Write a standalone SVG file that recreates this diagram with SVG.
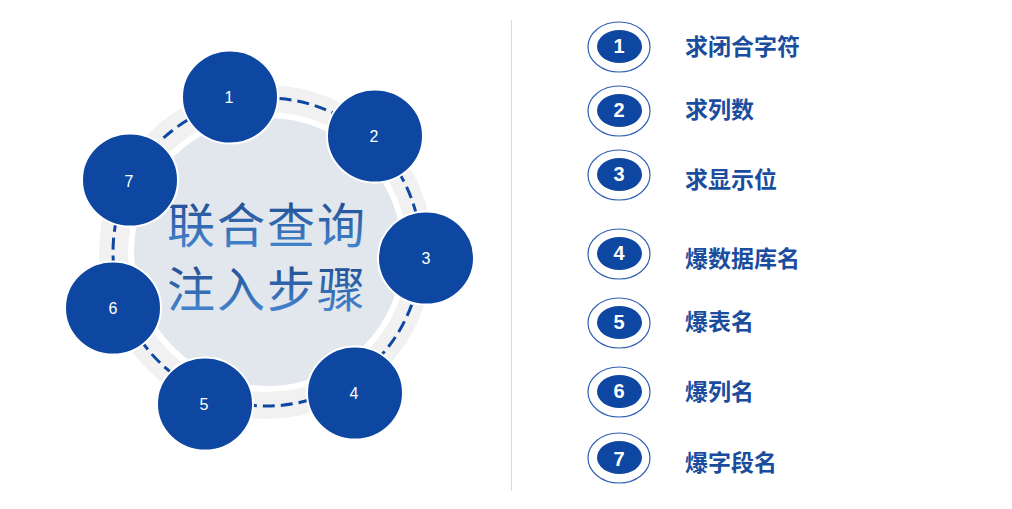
<svg xmlns="http://www.w3.org/2000/svg" width="1012" height="509" viewBox="0 0 1012 509">
  <defs>
    <linearGradient id="tg" x1="0" y1="0" x2="0" y2="1">
      <stop offset="0" stop-color="#173f82"/>
      <stop offset="1" stop-color="#4b8fd8"/>
    </linearGradient>
    <style>
      .node { fill: #0e47a1; stroke: #ffffff; stroke-width: 2; }
      .nlab { fill: #ffffff; font-family: "Liberation Sans", Arial, sans-serif; font-size: 16px; text-anchor: middle; dominant-baseline: central; }
      .bout { fill: #ffffff; stroke: #2f5fb0; stroke-width: 1.2; }
      .bin { fill: #0e47a1; }
      .blab { fill: #ffffff; font-family: "Liberation Sans", Arial, sans-serif; font-size: 20px; font-weight: bold; text-anchor: middle; dominant-baseline: central; }
      .item { fill: #1a4d9e; font-family: "Noto Sans CJK SC", sans-serif; font-size: 23px; font-weight: bold; dominant-baseline: central; }
      .title { fill: url(#tg); font-family: "Noto Sans CJK SC", sans-serif; font-size: 48px; font-weight: 400; text-anchor: middle; letter-spacing: 2px; }
    </style>
  </defs>
  <rect width="1012" height="509" fill="#ffffff"/>

  <g id="hub">
    <circle cx="266" cy="252" r="167" fill="#f1f1f2"/>
    <circle cx="268" cy="252" r="140" fill="#ffffff"/>
    <circle cx="268" cy="252" r="134" fill="#e2e7ee"/>
    <text class="title" x="267" y="243">联合查询</text>
    <text class="title" x="267" y="307">注入步骤</text>
  </g>

  <g id="connectors">
    <circle cx="267" cy="252" r="154" fill="none" stroke="#0e47a1" stroke-width="3" stroke-dasharray="12 6"/>
  </g>

  <g id="node1"><ellipse class="node" cx="230" cy="97" rx="48" ry="46.5"/><text class="nlab" x="229" y="97">1</text></g>
  <g id="node2"><ellipse class="node" cx="375" cy="136" rx="48" ry="46.5"/><text class="nlab" x="374" y="136">2</text></g>
  <g id="node3"><ellipse class="node" cx="426" cy="258" rx="48" ry="46.5"/><text class="nlab" x="426" y="258">3</text></g>
  <g id="node4"><ellipse class="node" cx="355" cy="393" rx="48" ry="46.5"/><text class="nlab" x="354" y="393">4</text></g>
  <g id="node5"><ellipse class="node" cx="205" cy="404" rx="48" ry="46.5"/><text class="nlab" x="204" y="404">5</text></g>
  <g id="node6"><ellipse class="node" cx="113" cy="308" rx="48" ry="46.5"/><text class="nlab" x="113" y="308">6</text></g>
  <g id="node7"><ellipse class="node" cx="130" cy="180" rx="48" ry="46.5"/><text class="nlab" x="129" y="181">7</text></g>

  <line x1="511.5" y1="20" x2="511.5" y2="491" stroke="#d9d9d9" stroke-width="1"/>

  <g id="step1"><ellipse class="bout" cx="619" cy="47" rx="31" ry="25"/><ellipse class="bin" cx="619.5" cy="46.5" rx="22.5" ry="16.5"/><text class="blab" x="619" y="46">1</text><text class="item" x="685" y="45">求闭合字符</text></g>
  <g id="step2"><ellipse class="bout" cx="619" cy="111" rx="31" ry="25"/><ellipse class="bin" cx="619.5" cy="110.5" rx="22.5" ry="16.5"/><text class="blab" x="619" y="110">2</text><text class="item" x="685" y="108">求列数</text></g>
  <g id="step3"><ellipse class="bout" cx="619" cy="175" rx="31" ry="25"/><ellipse class="bin" cx="619.5" cy="174.5" rx="22.5" ry="16.5"/><text class="blab" x="619" y="174">3</text><text class="item" x="685" y="178">求显示位</text></g>
  <g id="step4"><ellipse class="bout" cx="619" cy="254" rx="31" ry="25"/><ellipse class="bin" cx="619.5" cy="253.5" rx="22.5" ry="16.5"/><text class="blab" x="619" y="253">4</text><text class="item" x="685" y="257">爆数据库名</text></g>
  <g id="step5"><ellipse class="bout" cx="619" cy="323" rx="31" ry="25"/><ellipse class="bin" cx="619.5" cy="322.5" rx="22.5" ry="16.5"/><text class="blab" x="619" y="322">5</text><text class="item" x="685" y="320">爆表名</text></g>
  <g id="step6"><ellipse class="bout" cx="619" cy="392" rx="31" ry="25"/><ellipse class="bin" cx="619.5" cy="391.5" rx="22.5" ry="16.5"/><text class="blab" x="619" y="391">6</text><text class="item" x="685" y="390">爆列名</text></g>
  <g id="step7"><ellipse class="bout" cx="619" cy="458" rx="31" ry="25"/><ellipse class="bin" cx="619.5" cy="457.5" rx="22.5" ry="16.5"/><text class="blab" x="619" y="459">7</text><text class="item" x="685" y="461">爆字段名</text></g>
</svg>
